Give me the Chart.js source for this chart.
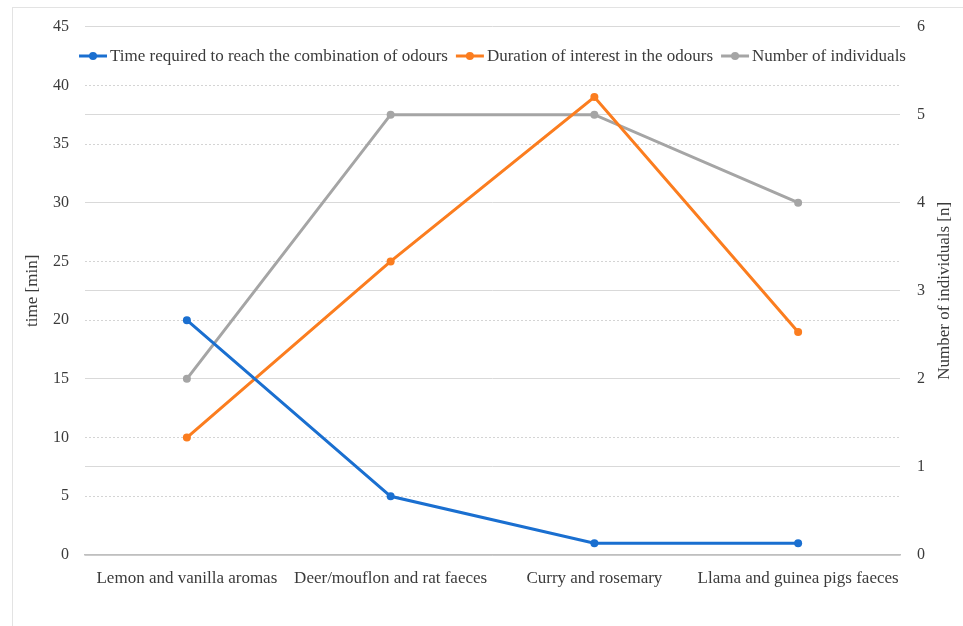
<!DOCTYPE html>
<html>
<head>
<meta charset="utf-8">
<script src="https://cdn.jsdelivr.net/npm/chart.js@4.4.1/dist/chart.umd.min.js"></script>
<style>
  html, body { margin: 0; padding: 0; background: #ffffff; }
  #wrap { position: relative; width: 963px; height: 626px; overflow: hidden; }
  #frame { position: absolute; left: 12px; top: 7px; width: 1000px; height: 700px;
           border: 1px solid #e3e3e3; box-sizing: border-box; }
  canvas { position: absolute; left: 0; top: 0; }
</style>
</head>
<body>
<div id="wrap">
  <div id="frame"></div>
  <canvas id="chart" width="963" height="626"></canvas>
</div>
<script>
// Odour combinations tested
const categories = [
  'Lemon and vanilla aromas',
  'Deer/mouflon and rat faeces',
  'Curry and rosemary',
  'Llama and guinea pigs faeces'
];
// Time required to reach the combination of odours [min]
const timeToReach = [20, 5, 1, 1];
// Duration of interest in the odours [min]
const interestDuration = [10, 25, 39, 19];
// Number of individuals [n]
const individuals = [2, 5, 5, 4];

const leftTicks = [0, 5, 10, 15, 20, 25, 30, 35, 40, 45];
const rightTicks = [0, 1, 2, 3, 4, 5, 6];

const FONT = '"Liberation Serif", "DejaVu Serif", serif';
const TEXT = '#3b3b3b';
const BLUE = '#1a6fd0';
const ORANGE = '#fb7d1f';
const GREY = '#a5a5a5';

// Legend drawn inside the plot, just under the top gridline
const innerLegend = {
  id: 'innerLegend',
  afterDatasetsDraw(chart) {
    const ctx = chart.ctx;
    const area = chart.chartArea;
    ctx.save();
    ctx.font = '17px ' + FONT;
    ctx.textBaseline = 'middle';
    const markW = 28, gapText = 3, gapItem = 8;
    const items = chart.data.datasets.map(ds => ({
      label: ds.label, color: ds.borderColor,
      w: markW + gapText + ctx.measureText(ds.label).width
    }));
    const total = items.reduce((s, it) => s + it.w, 0) + gapItem * (items.length - 1);
    let x = (area.left + area.right) / 2 - total / 2;
    const y = 56;
    items.forEach(it => {
      ctx.strokeStyle = it.color;
      ctx.lineWidth = 3;
      ctx.beginPath();
      ctx.moveTo(x, y);
      ctx.lineTo(x + markW, y);
      ctx.stroke();
      ctx.fillStyle = it.color;
      ctx.beginPath();
      ctx.arc(x + markW / 2, y, 4, 0, Math.PI * 2);
      ctx.fill();
      ctx.fillStyle = TEXT;
      ctx.textAlign = 'left';
      ctx.fillText(it.label, x + markW + gapText, y + 1);
      x += it.w + gapItem;
    });
    ctx.restore();
  }
};

// Axis titles, both reading bottom-to-top
const axisTitles = {
  id: 'axisTitles',
  afterDraw(chart) {
    const ctx = chart.ctx;
    const area = chart.chartArea;
    const cy = (area.top + area.bottom) / 2;
    ctx.save();
    ctx.font = '17px ' + FONT;
    ctx.fillStyle = TEXT;
    ctx.textAlign = 'center';
    ctx.textBaseline = 'middle';
    [[33, 'time [min]'], [945, 'Number of individuals [n]']].forEach(([x, t]) => {
      ctx.save();
      ctx.translate(x, cy);
      ctx.rotate(-Math.PI / 2);
      ctx.fillText(t, 0, 0);
      ctx.restore();
    });
    ctx.restore();
  }
};

const lineStyle = (color) => ({
  borderColor: color,
  backgroundColor: color,
  borderWidth: 3,
  pointRadius: 4,
  pointHoverRadius: 4,
  pointBorderWidth: 0,
  tension: 0,
  fill: false
});

new Chart(document.getElementById('chart'), {
  type: 'line',
  data: {
    labels: categories,
    datasets: [
      Object.assign({ label: 'Time required to reach the combination of odours', data: timeToReach, yAxisID: 'y' }, lineStyle(BLUE)),
      Object.assign({ label: 'Duration of interest in the odours', data: interestDuration, yAxisID: 'y' }, lineStyle(ORANGE)),
      Object.assign({ label: 'Number of individuals', data: individuals, yAxisID: 'y1' }, lineStyle(GREY))
    ]
  },
  options: {
    responsive: false,
    animation: false,
    layout: { padding: { top: 24, left: 0, right: 0, bottom: 0 } },
    plugins: {
      legend: { display: false },
      tooltip: { enabled: false },
      title: { display: false }
    },
    scales: {
      x: {
        offset: true,
        grid: { display: false, drawTicks: false },
        border: { display: true, color: '#bfbfbf', width: 1.5 },
        ticks: { color: TEXT, font: { family: FONT, size: 17 }, padding: 13, maxRotation: 0, autoSkip: false },
        afterFit(s) { s.height = 71; }
      },
      y: {
        position: 'left',
        min: 0, max: 45,
        afterBuildTicks(s) { s.ticks = leftTicks.map(v => ({ value: v })); },
        grid: { color: '#d4d4d4', lineWidth: 1, drawTicks: false },
        border: { display: false, dash: [2, 2] },
        ticks: { color: TEXT, font: { family: FONT, size: 16 }, padding: 16 },
        afterFit(s) { s.width = 85; }
      },
      y1: {
        position: 'right',
        min: 0, max: 6,
        afterBuildTicks(s) { s.ticks = rightTicks.map(v => ({ value: v })); },
        grid: { color: '#d9d9d9', lineWidth: 1, drawTicks: false },
        border: { display: false },
        ticks: { color: TEXT, font: { family: FONT, size: 16 }, padding: 17 },
        afterFit(s) { s.width = 63; }
      }
    }
  },
  plugins: [innerLegend, axisTitles]
});
</script>
</body>
</html>
